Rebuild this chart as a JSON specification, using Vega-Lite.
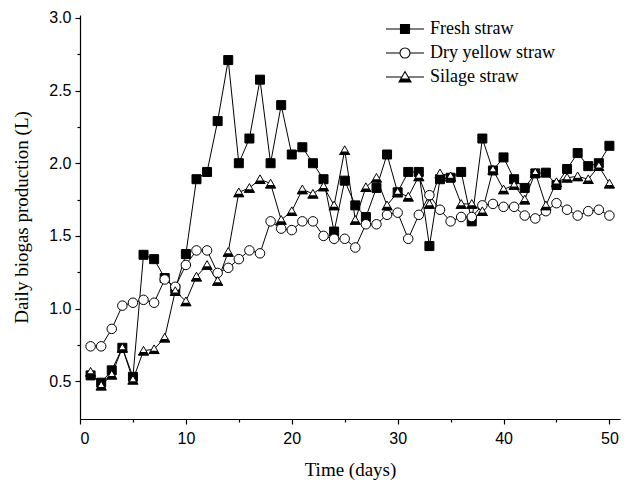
{
  "$schema": "https://vega.github.io/schema/vega-lite/v6.json",
  "width": 540,
  "height": 404,
  "autosize": {"type": "none"},
  "padding": {"left": 80, "top": 15, "right": 10, "bottom": 63},
  "background": "white",
  "config": {
    "view": {"stroke": null},
    "axis": {
      "domainColor": "black", "tickColor": "black", "labelColor": "black", "titleColor": "black",
      "grid": false, "labelFont": "Liberation Sans", "labelFontSize": 16,
      "titleFont": "Liberation Serif", "titleFontSize": 19, "titleFontWeight": "normal",
      "tickSize": 5, "domainWidth": 1.2, "tickWidth": 1.2
    },
    "legend": {"labelFont": "Liberation Serif", "labelFontSize": 18, "labelColor": "black", "padding": 0}
  },
  "data": {
    "values": [
      {"day":1,"series":"Fresh straw","v":0.54},{"day":2,"series":"Fresh straw","v":0.49},{"day":3,"series":"Fresh straw","v":0.575},{"day":4,"series":"Fresh straw","v":0.73},{"day":5,"series":"Fresh straw","v":0.53},
      {"day":6,"series":"Fresh straw","v":1.37},{"day":7,"series":"Fresh straw","v":1.34},{"day":8,"series":"Fresh straw","v":1.21},{"day":9,"series":"Fresh straw","v":1.135},{"day":10,"series":"Fresh straw","v":1.375},
      {"day":11,"series":"Fresh straw","v":1.89},{"day":12,"series":"Fresh straw","v":1.94},{"day":13,"series":"Fresh straw","v":2.29},{"day":14,"series":"Fresh straw","v":2.71},{"day":15,"series":"Fresh straw","v":2.0},
      {"day":16,"series":"Fresh straw","v":2.17},{"day":17,"series":"Fresh straw","v":2.575},{"day":18,"series":"Fresh straw","v":2.0},{"day":19,"series":"Fresh straw","v":2.4},{"day":20,"series":"Fresh straw","v":2.06},
      {"day":21,"series":"Fresh straw","v":2.11},{"day":22,"series":"Fresh straw","v":2.0},{"day":23,"series":"Fresh straw","v":1.89},{"day":24,"series":"Fresh straw","v":1.53},{"day":25,"series":"Fresh straw","v":1.88},
      {"day":26,"series":"Fresh straw","v":1.71},{"day":27,"series":"Fresh straw","v":1.63},{"day":28,"series":"Fresh straw","v":1.83},{"day":29,"series":"Fresh straw","v":2.06},{"day":30,"series":"Fresh straw","v":1.8},
      {"day":31,"series":"Fresh straw","v":1.94},{"day":32,"series":"Fresh straw","v":1.94},{"day":33,"series":"Fresh straw","v":1.43},{"day":34,"series":"Fresh straw","v":1.89},{"day":35,"series":"Fresh straw","v":1.9},
      {"day":36,"series":"Fresh straw","v":1.94},{"day":37,"series":"Fresh straw","v":1.6},{"day":38,"series":"Fresh straw","v":2.17},{"day":39,"series":"Fresh straw","v":1.95},{"day":40,"series":"Fresh straw","v":2.04},
      {"day":41,"series":"Fresh straw","v":1.89},{"day":42,"series":"Fresh straw","v":1.83},{"day":43,"series":"Fresh straw","v":1.93},{"day":44,"series":"Fresh straw","v":1.935},{"day":45,"series":"Fresh straw","v":1.85},
      {"day":46,"series":"Fresh straw","v":1.96},{"day":47,"series":"Fresh straw","v":2.07},{"day":48,"series":"Fresh straw","v":1.98},{"day":49,"series":"Fresh straw","v":2.0},{"day":50,"series":"Fresh straw","v":2.12},

      {"day":1,"series":"Dry yellow straw","v":0.74},{"day":2,"series":"Dry yellow straw","v":0.74},{"day":3,"series":"Dry yellow straw","v":0.86},{"day":4,"series":"Dry yellow straw","v":1.02},{"day":5,"series":"Dry yellow straw","v":1.04},
      {"day":6,"series":"Dry yellow straw","v":1.06},{"day":7,"series":"Dry yellow straw","v":1.04},{"day":8,"series":"Dry yellow straw","v":1.2},{"day":9,"series":"Dry yellow straw","v":1.15},{"day":10,"series":"Dry yellow straw","v":1.3},
      {"day":11,"series":"Dry yellow straw","v":1.4},{"day":12,"series":"Dry yellow straw","v":1.4},{"day":13,"series":"Dry yellow straw","v":1.245},{"day":14,"series":"Dry yellow straw","v":1.28},{"day":15,"series":"Dry yellow straw","v":1.34},
      {"day":16,"series":"Dry yellow straw","v":1.4},{"day":17,"series":"Dry yellow straw","v":1.38},{"day":18,"series":"Dry yellow straw","v":1.6},{"day":19,"series":"Dry yellow straw","v":1.55},{"day":20,"series":"Dry yellow straw","v":1.54},
      {"day":21,"series":"Dry yellow straw","v":1.6},{"day":22,"series":"Dry yellow straw","v":1.6},{"day":23,"series":"Dry yellow straw","v":1.5},{"day":24,"series":"Dry yellow straw","v":1.48},{"day":25,"series":"Dry yellow straw","v":1.48},
      {"day":26,"series":"Dry yellow straw","v":1.42},{"day":27,"series":"Dry yellow straw","v":1.58},{"day":28,"series":"Dry yellow straw","v":1.58},{"day":29,"series":"Dry yellow straw","v":1.645},{"day":30,"series":"Dry yellow straw","v":1.66},
      {"day":31,"series":"Dry yellow straw","v":1.48},{"day":32,"series":"Dry yellow straw","v":1.645},{"day":33,"series":"Dry yellow straw","v":1.78},{"day":34,"series":"Dry yellow straw","v":1.68},{"day":35,"series":"Dry yellow straw","v":1.6},
      {"day":36,"series":"Dry yellow straw","v":1.63},{"day":37,"series":"Dry yellow straw","v":1.63},{"day":38,"series":"Dry yellow straw","v":1.71},{"day":39,"series":"Dry yellow straw","v":1.72},{"day":40,"series":"Dry yellow straw","v":1.7},
      {"day":41,"series":"Dry yellow straw","v":1.7},{"day":42,"series":"Dry yellow straw","v":1.64},{"day":43,"series":"Dry yellow straw","v":1.62},{"day":44,"series":"Dry yellow straw","v":1.67},{"day":45,"series":"Dry yellow straw","v":1.725},
      {"day":46,"series":"Dry yellow straw","v":1.68},{"day":47,"series":"Dry yellow straw","v":1.64},{"day":48,"series":"Dry yellow straw","v":1.67},{"day":49,"series":"Dry yellow straw","v":1.68},{"day":50,"series":"Dry yellow straw","v":1.64},

      {"day":1,"series":"Silage straw","v":0.565},{"day":2,"series":"Silage straw","v":0.47},{"day":3,"series":"Silage straw","v":0.545},{"day":4,"series":"Silage straw","v":0.73},{"day":5,"series":"Silage straw","v":0.51},
      {"day":6,"series":"Silage straw","v":0.71},{"day":7,"series":"Silage straw","v":0.72},{"day":8,"series":"Silage straw","v":0.8},{"day":9,"series":"Silage straw","v":1.12},{"day":10,"series":"Silage straw","v":1.05},
      {"day":11,"series":"Silage straw","v":1.22},{"day":12,"series":"Silage straw","v":1.3},{"day":13,"series":"Silage straw","v":1.19},{"day":14,"series":"Silage straw","v":1.39},{"day":15,"series":"Silage straw","v":1.8},
      {"day":16,"series":"Silage straw","v":1.83},{"day":17,"series":"Silage straw","v":1.89},{"day":18,"series":"Silage straw","v":1.86},{"day":19,"series":"Silage straw","v":1.61},{"day":20,"series":"Silage straw","v":1.67},
      {"day":21,"series":"Silage straw","v":1.82},{"day":22,"series":"Silage straw","v":1.79},{"day":23,"series":"Silage straw","v":1.84},{"day":24,"series":"Silage straw","v":1.71},{"day":25,"series":"Silage straw","v":2.09},
      {"day":26,"series":"Silage straw","v":1.61},{"day":27,"series":"Silage straw","v":1.835},{"day":28,"series":"Silage straw","v":1.9},{"day":29,"series":"Silage straw","v":1.71},{"day":30,"series":"Silage straw","v":1.8},
      {"day":31,"series":"Silage straw","v":1.77},{"day":32,"series":"Silage straw","v":1.91},{"day":33,"series":"Silage straw","v":1.72},{"day":34,"series":"Silage straw","v":1.93},{"day":35,"series":"Silage straw","v":1.91},
      {"day":36,"series":"Silage straw","v":1.72},{"day":37,"series":"Silage straw","v":1.72},{"day":38,"series":"Silage straw","v":1.67},{"day":39,"series":"Silage straw","v":1.955},{"day":40,"series":"Silage straw","v":1.82},
      {"day":41,"series":"Silage straw","v":1.85},{"day":42,"series":"Silage straw","v":1.75},{"day":43,"series":"Silage straw","v":1.935},{"day":44,"series":"Silage straw","v":1.71},{"day":45,"series":"Silage straw","v":1.87},
      {"day":46,"series":"Silage straw","v":1.9},{"day":47,"series":"Silage straw","v":1.91},{"day":48,"series":"Silage straw","v":1.89},{"day":49,"series":"Silage straw","v":1.98},{"day":50,"series":"Silage straw","v":1.86}
    ]
  },
  "layer": [
    {
      "transform": [{"filter": "false"}],
      "mark": {"type": "point"},
      "encoding": {
        "x": {"field": "day", "type": "quantitative", "scale": {"domain": [0, 51], "nice": false, "zero": false},
              "axis": {"orient": "bottom", "values": [5, 15, 25, 35, 45], "labels": false, "title": null, "tickSize": 3, "domain": false}},
        "y": {"field": "v", "type": "quantitative", "scale": {"domain": [0.24, 3.02], "nice": false, "zero": false},
              "axis": {"orient": "left", "values": [0.75, 1.25, 1.75, 2.25, 2.75], "labels": false, "title": null, "tickSize": 3, "domain": false}}
      }
    },
    {
      "mark": {"type": "line", "color": "black", "strokeWidth": 1},
      "encoding": {
        "x": {"field": "day", "type": "quantitative",
              "axis": {"orient": "bottom", "values": [0, 10, 20, 30, 40, 50], "title": "Time (days)", "titlePadding": 14, "labelPadding": 6}},
        "y": {"field": "v", "type": "quantitative",
              "axis": {"orient": "left", "values": [0.5, 1.0, 1.5, 2.0, 2.5, 3.0], "format": ".1f", "title": "Daily biogas production (L)", "titlePadding": 17, "labelPadding": 4}},
        "detail": {"field": "series"}
      }
    },
    {
      "mark": {"type": "point", "filled": false, "stroke": "black", "strokeWidth": 1, "opacity": 1},
      "encoding": {
        "x": {"field": "day", "type": "quantitative", "axis": null},
        "y": {"field": "v", "type": "quantitative", "axis": null},
        "shape": {"field": "series", "type": "nominal",
                  "scale": {"domain": ["Fresh straw", "Dry yellow straw", "Silage straw"], "range": ["square", "circle", "triangle-up"]},
                  "legend": null},
        "fill": {"field": "series", "type": "nominal",
                 "scale": {"domain": ["Fresh straw", "Dry yellow straw", "Silage straw"], "range": ["black", "white", "white"]},
                 "legend": null},
        "size": {"field": "series", "type": "nominal",
                 "scale": {"domain": ["Fresh straw", "Dry yellow straw", "Silage straw"], "range": [81, 100, 125]},
                 "legend": null}
      }
    },
    {
      "transform": [{"filter": "datum.series === 'Silage straw'"}],
      "mark": {"type": "point", "filled": true, "fill": "black", "opacity": 1, "strokeWidth": 0, "size": 125,
               "shape": "M-0.58,0.25L0.58,0.25L1,0.866L-1,0.866Z"},
      "encoding": {
        "x": {"field": "day", "type": "quantitative", "axis": null},
        "y": {"field": "v", "type": "quantitative", "axis": null}
      }
    },
    {
      "transform": [{"filter": "false"}],
      "mark": {"type": "point", "filled": false, "stroke": "black", "strokeWidth": 1.1},
      "encoding": {
        "x": {"field": "day", "type": "quantitative", "axis": null},
        "y": {"field": "v", "type": "quantitative", "axis": null},
        "shape": {"field": "lg", "type": "nominal",
                  "scale": {"domain": ["Fresh straw", "Dry yellow straw", "Silage straw"],
                            "range": [
                              "M-3.8,0H3.8M-0.9,-0.9H0.9V0.9H-0.9ZM-0.7,-0.7H0.7V0.7H-0.7ZM-0.5,-0.5H0.5V0.5H-0.5ZM-0.3,-0.3H0.3V0.3H-0.3ZM-0.1,-0.1H0.1V0.1H-0.1Z",
                              "M-3.8,0H-1M1,0H3.8M-1,0A1,1 0 1,0 1,0A1,1 0 1,0 -1,0Z",
                              "M-3.8,0H-0.63M0.63,0H3.8M-1.2,1L1.2,1L0,-1.1ZM-1.09,0.8H1.09M-0.97,0.6H0.97M-0.86,0.4H0.86"
                            ]},
                  "legend": {
                    "title": null, "orient": "none", "legendX": 316, "legendY": 5,
                    "symbolSize": 100, "symbolStrokeColor": "black", "symbolStrokeWidth": 1.1, "symbolOpacity": 1,
                    "labelOffset": 16, "rowPadding": 6
                  }}
      }
    }
  ],
  "resolve": {"axis": {"x": "independent", "y": "independent"}, "scale": {"shape": "independent"}}
}
